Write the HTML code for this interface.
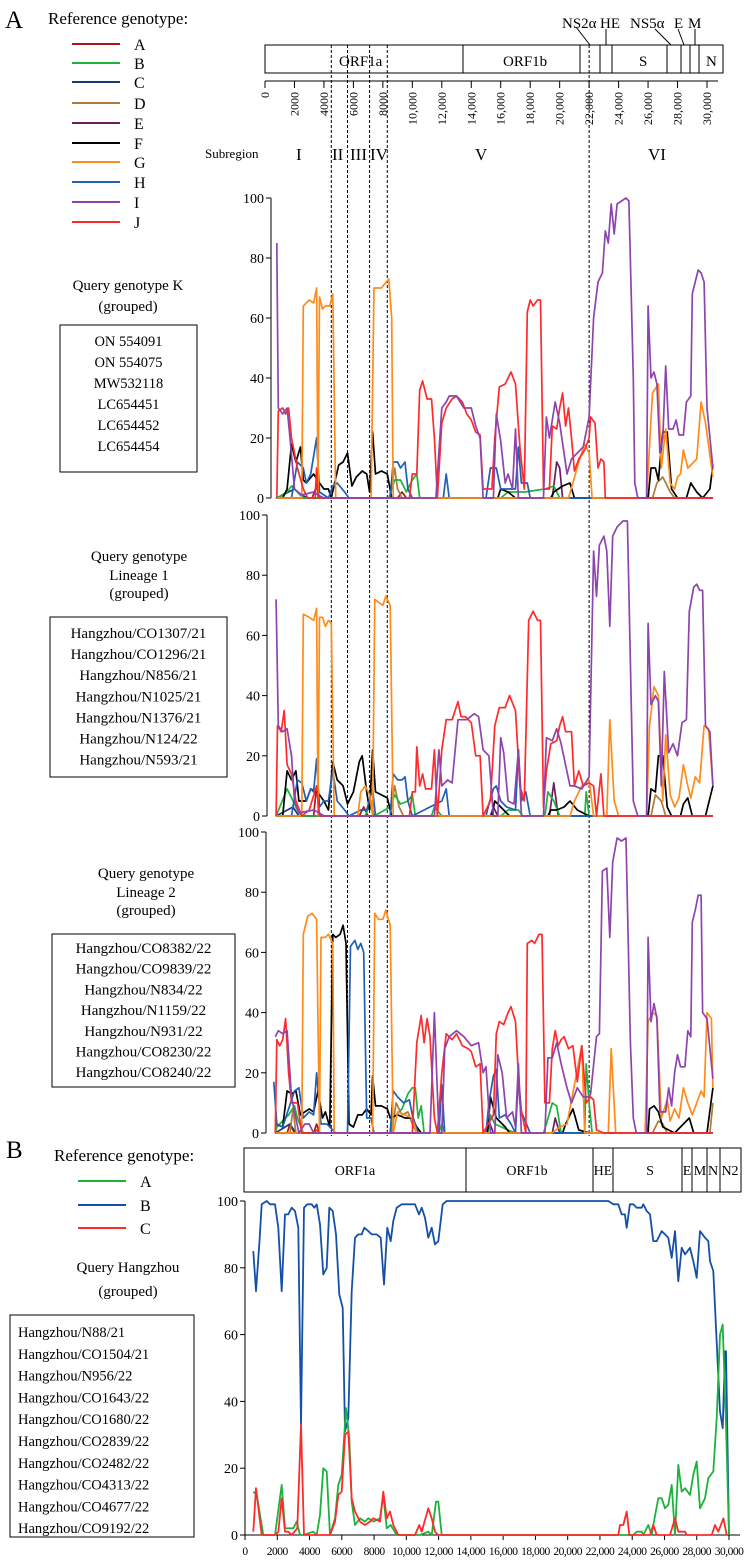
<!DOCTYPE html>
<html><head><meta charset="utf-8"><style>
html,body{margin:0;padding:0;background:#fff;}
svg{display:block;font-family:"Liberation Serif",serif;}
</style></head>
<body>
<svg id="fig" width="747" height="1563" viewBox="0 0 747 1563" xmlns="http://www.w3.org/2000/svg">
<text x="5" y="28" font-size="25">A</text>
<text x="48" y="24" font-size="17">Reference genotype:</text>
<g id="legendA"></g>
<g id="genomeA" fill="none" stroke="#000" stroke-width="1">
<rect x="265" y="45" width="458" height="28"/>
<line x1="463" y1="45" x2="463" y2="73"/><line x1="580" y1="45" x2="580" y2="73"/>
<line x1="600" y1="45" x2="600" y2="73"/><line x1="612" y1="45" x2="612" y2="73"/>
<line x1="667" y1="45" x2="667" y2="73"/><line x1="681" y1="45" x2="681" y2="73"/>
<line x1="690" y1="45" x2="690" y2="73"/><line x1="699" y1="45" x2="699" y2="73"/>
<line x1="576" y1="27" x2="590" y2="45"/><line x1="606" y1="29" x2="606" y2="45"/>
<line x1="655" y1="29" x2="671" y2="45"/><line x1="678" y1="29" x2="684" y2="45"/>
<line x1="695" y1="29" x2="695" y2="45"/>
</g>
<g font-size="15">
<text x="339" y="66">ORF1a</text>
<text x="503" y="66">ORF1b</text>
<text x="639" y="66">S</text>
<text x="706" y="66">N</text>
<text x="562" y="28">NS2α</text>
<text x="600" y="28">HE</text>
<text x="630" y="28">NS5α</text>
<text x="674" y="28">E</text>
<text x="688" y="28">M</text>
</g>
<g id="topAxis"></g>
<text x="205" y="158" font-size="13">Subregion</text>
<g font-size="17">
<text x="296" y="160">I</text><text x="332" y="160">II</text><text x="350" y="160">III</text><text x="370" y="160">IV</text><text x="475" y="160">V</text><text x="648" y="160">VI</text>
</g>
<g id="dashes"></g>
<g id="panels"></g>
<g font-size="15" text-anchor="middle">
<text x="128" y="290">Query genotype K</text><text x="128" y="311">(grouped)</text>
<text x="139" y="561">Query genotype</text><text x="139" y="580">Lineage 1</text><text x="139" y="598">(grouped)</text>
<text x="146" y="878">Query genotype</text><text x="146" y="897">Lineage 2</text><text x="146" y="915">(grouped)</text>
<text x="128" y="1272">Query Hangzhou</text><text x="128" y="1296">(grouped)</text>
</g>
<g id="boxes"></g>
<text x="6" y="1158" font-size="25">B</text>
<text x="54" y="1161" font-size="17">Reference genotype:</text>
<g id="legendB"></g>
<g fill="none" stroke="#000">
<rect x="244" y="1148" width="497" height="44"/>
<line x1="466" y1="1148" x2="466" y2="1192"/><line x1="593" y1="1148" x2="593" y2="1192"/>
<line x1="613" y1="1148" x2="613" y2="1192"/><line x1="682" y1="1148" x2="682" y2="1192"/>
<line x1="692" y1="1148" x2="692" y2="1192"/><line x1="707" y1="1148" x2="707" y2="1192"/>
<line x1="720" y1="1148" x2="720" y2="1192"/>
</g>
<g font-size="14" text-anchor="middle">
<text x="355" y="1175">ORF1a</text><text x="527" y="1175">ORF1b</text><text x="603" y="1175">HE</text>
<text x="650" y="1175">S</text><text x="687" y="1175">E</text><text x="700" y="1175">M</text>
<text x="713" y="1175">N</text><text x="730" y="1175">N2</text>
</g>
</svg>
<script>
const refNames = ['A','B','C','D','E','F','G','H','I','J'];
const refColors = ['#a8161f','#1db33b','#1c3a73','#b07a3c','#6b1f5c','#000000','#ff8c1a','#1f5fb5','#8e44ad','#ff2a2a'];
const yTicksA = [0,20,40,60,80,100];
const topTicks = [0,2000,4000,6000,8000,10000,12000,14000,16000,18000,20000,22000,24000,26000,28000,30000];
const topTickLabels = ['0','2000','4000','6000','8000','10,000','12,000','14,000','16,000','18,000','20,000','22,000','24,000','26,000','28,000','30,000'];
const boundaries = [4500,5600,7100,8300,22000];

const p1_A = [[800,0],[3200,0],[3500,4],[3700,0],[9000,0],[9300,2],[9600,0],[30400,0]];
const p1_B = [[800,0],[1500,2],[1800,4],[2200,2],[2600,0],[8400,0],[8800,6],[9200,6],[9600,2],[10000,6],[10300,8],[10500,0],[16000,0],[16500,2],[17600,2],[19000,3],[19600,4],[20000,0],[30400,0]];
const p1_C = [[800,0],[2000,3],[2400,1],[3000,0],[30400,0]];
const p1_D = [[800,0],[8500,0],[8800,10],[9000,3],[9300,0],[26300,0],[26600,5],[27000,7],[27500,2],[27800,0],[30400,0]];
const p1_E = [[800,0],[19500,0],[19800,12],[20000,10],[20200,0],[30400,0]];
const p1_F = [[800,0],[1200,0],[1500,3],[1800,18],[2100,12],[2400,17],[2600,6],[2800,5],[3300,8],[3700,5],[4000,3],[4300,3],[4500,0],[5000,11],[5300,12],[5600,15],[5900,4],[6200,7],[6600,9],[6900,8],[7100,2],[7300,22],[7500,8],[7900,9],[8300,8],[8600,0],[15800,0],[16000,3],[16500,2],[17000,0],[19400,0],[19600,2],[20200,4],[20700,5],[21000,0],[26000,0],[26200,10],[26500,10],[26700,6],[27000,22],[27300,22],[27600,3],[28000,0],[28600,0],[28900,5],[29300,2],[29700,0],[30200,3],[30400,11]];
const p1_G = [[800,0],[2500,0],[2600,64],[3000,66],[3300,65],[3500,70],[3600,0],[3700,67],[3900,63],[4100,64],[4400,64],[4600,68],[4800,0],[7200,0],[7400,70],[7900,70],[8400,73],[8600,60],[8700,0],[20600,0],[20900,5],[21300,12],[21700,18],[22000,15],[22200,0],[25900,0],[26300,35],[26700,38],[26900,10],[27200,23],[27500,5],[27800,3],[28000,7],[28200,8],[28400,16],[28700,10],[28900,11],[29300,13],[29600,32],[29900,25],[30400,7]];
const p1_H = [[800,0],[1800,0],[2200,12],[2600,10],[2800,5],[3100,8],[3500,20],[3700,2],[4300,0],[4600,4],[4900,5],[5400,2],[5700,0],[8500,0],[8700,12],[9000,12],[9200,10],[9500,12],[9700,3],[10000,0],[12100,0],[12300,8],[12500,0],[15000,0],[15300,10],[15700,10],[16000,3],[16400,3],[17000,3],[17200,17],[17400,5],[17800,5],[18000,0],[30400,0]];
const p1_I = [[800,85],[900,30],[1200,28],[1500,30],[1700,20],[2000,3],[2500,1],[3300,2],[3600,1],[4000,0],[11600,0],[12000,30],[12300,32],[12500,34],[13000,34],[13500,30],[14000,30],[14300,24],[14600,20],[14800,0],[15500,0],[15700,28],[16000,19],[16300,5],[16500,8],[16800,3],[17000,23],[17200,0],[18900,0],[19100,27],[19300,20],[19700,32],[20000,25],[20500,8],[20800,13],[21200,15],[21600,17],[22000,27],[22300,60],[22600,72],[22900,75],[23100,89],[23300,85],[23500,98],[23700,88],[23900,98],[24200,99],[24500,100],[24700,99],[25000,40],[25100,5],[25300,0],[25900,0],[26000,64],[26200,40],[26400,42],[26600,38],[26800,15],[27000,20],[27200,44],[27400,23],[27700,23],[27900,26],[28100,21],[28400,21],[28600,32],[28900,34],[29000,68],[29200,72],[29400,76],[29600,75],[29800,72],[30000,30],[30400,10]];
const p1_J = [[800,0],[900,29],[1200,30],[1400,28],[1600,30],[1800,20],[2200,10],[2600,3],[2900,0],[3400,0],[3500,10],[3600,0],[9800,0],[10000,8],[10300,8],[10500,36],[10700,39],[11000,33],[11300,33],[11500,20],[11700,0],[12000,25],[12300,30],[12700,33],[13000,34],[13400,32],[13700,28],[14000,26],[14300,22],[14600,21],[14800,3],[15400,3],[15600,20],[15900,37],[16300,38],[16700,42],[17000,38],[17300,17],[17600,3],[17800,62],[18000,66],[18200,64],[18500,66],[18700,66],[18900,3],[19300,3],[19500,24],[19800,23],[20000,30],[20200,35],[20400,24],[20600,30],[20800,20],[21000,9],[21300,13],[21700,16],[22000,20],[22100,27],[22400,25],[22600,10],[22800,13],[23000,12],[23100,0],[30400,0]];

const p2_A = [[750,0],[3300,0],[3500,10],[3700,0],[6400,0],[6700,3],[7000,0],[30400,0]];
const p2_B = [[750,0],[1500,9],[1800,6],[2200,2],[2500,0],[6800,0],[7200,5],[7400,0],[8500,3],[8800,7],[9200,4],[9700,5],[10000,7],[10200,0],[11300,0],[11500,3],[12000,0],[16000,0],[16500,2],[17200,2],[17500,0],[19000,0],[19200,8],[19600,5],[20000,0],[21700,0],[21800,8],[22000,0],[30400,0]];
const p2_C = [[750,0],[1900,3],[2300,0],[30400,0]];
const p2_D = [[750,0],[8500,0],[8800,10],[9100,3],[9400,0],[26200,0],[26500,7],[26900,5],[27200,0],[30400,0]];
const p2_E = [[750,0],[15300,0],[15500,3],[15800,0],[19300,0],[19600,11],[19900,0],[30400,0]];
const p2_F = [[750,0],[1200,0],[1500,15],[1800,12],[2100,15],[2300,5],[2800,5],[3100,9],[3500,8],[3700,7],[4000,5],[4300,2],[4600,18],[4900,12],[5300,10],[5600,4],[6000,8],[6400,18],[6600,20],[6900,8],[7100,2],[7300,22],[7500,8],[7900,7],[8300,6],[8600,0],[15400,0],[15600,5],[16200,2],[16600,0],[19200,0],[19400,2],[19800,2],[20300,3],[20700,5],[21200,2],[22000,0],[26000,0],[26200,9],[26500,8],[26700,20],[27000,20],[27300,3],[27600,0],[28200,0],[28400,4],[28700,6],[29000,0],[29900,0],[30400,10]];
const p2_G = [[750,0],[2500,0],[2600,67],[3000,66],[3300,65],[3500,69],[3600,0],[3700,66],[3900,66],[4100,63],[4300,65],[4500,64],[4700,0],[6300,0],[6500,8],[6800,10],[7100,7],[7300,0],[7450,72],[7700,71],[8000,70],[8200,73],[8500,70],[8700,0],[20700,0],[21000,5],[21500,10],[22000,12],[22300,0],[23200,0],[23400,32],[23700,5],[24000,0],[25900,0],[26100,30],[26400,43],[26700,40],[27000,5],[27200,27],[27500,7],[27800,3],[28100,6],[28400,17],[28700,10],[28900,6],[29200,13],[29500,11],[29800,30],[30100,29],[30400,10]];
const p2_H = [[750,0],[1800,0],[2200,12],[2500,11],[2800,5],[3100,9],[3300,8],[3500,19],[3700,3],[4000,5],[4300,5],[4600,15],[4900,5],[5400,2],[5700,0],[6500,2],[6900,2],[7300,9],[7500,0],[8500,0],[8700,14],[9000,12],[9300,12],[9500,13],[9700,5],[10000,0],[12000,5],[12300,9],[12500,0],[15000,0],[15200,4],[15500,9],[15700,10],[16000,5],[16400,3],[17000,2],[17200,22],[17400,5],[17700,8],[18000,0],[30400,0]];
const p2_I = [[750,72],[900,30],[1200,28],[1500,29],[1800,20],[2000,5],[2300,1],[3300,2],[3700,1],[4000,0],[11500,0],[11800,22],[12000,10],[12400,12],[12700,11],[13100,32],[13700,32],[14200,34],[14500,33],[14800,22],[15200,20],[15500,0],[15800,0],[16000,26],[16200,21],[16500,5],[16900,4],[17200,22],[17400,0],[18900,0],[19100,26],[19500,25],[19800,29],[20100,24],[20700,10],[21000,10],[21500,9],[22000,13],[22300,88],[22500,73],[22700,90],[23000,93],[23200,88],[23400,63],[23600,93],[23900,96],[24300,98],[24600,98],[25000,5],[25300,0],[25900,0],[26000,64],[26200,37],[26500,40],[26700,38],[26900,10],[27100,48],[27400,21],[27700,24],[28000,20],[28300,31],[28600,32],[28800,68],[29100,76],[29300,77],[29500,75],[29700,75],[29900,30],[30200,28],[30400,10]];
const p2_J = [[750,0],[850,30],[1100,28],[1300,35],[1500,17],[1800,14],[2100,5],[2500,0],[3000,2],[3500,10],[3700,0],[9800,0],[10000,8],[10200,8],[10300,23],[10500,10],[10700,14],[10900,9],[11300,9],[11500,22],[11700,0],[12000,22],[12300,32],[12700,32],[13100,38],[13300,33],[13600,33],[14000,31],[14300,20],[14600,20],[14800,0],[15300,5],[15600,30],[15900,36],[16300,36],[16600,40],[17000,35],[17300,10],[17600,5],[17900,65],[18200,68],[18500,65],[18700,65],[18900,3],[19100,15],[19400,24],[19800,25],[20000,30],[20200,33],[20400,28],[20800,28],[21000,10],[21300,15],[21600,10],[22000,11],[22300,10],[22500,0],[22800,14],[23000,0],[30400,0]];

const p3_A = [[700,0],[1500,0],[1700,3],[2000,0],[3300,0],[3500,3],[3700,0],[30400,0]];
const p3_B = [[700,0],[800,2],[1600,6],[2000,9],[2200,5],[2600,0],[8500,0],[8700,5],[9300,8],[9700,13],[10000,15],[10200,15],[10400,5],[10600,9],[10800,0],[11800,0],[12000,3],[12200,0],[15100,0],[15300,6],[15600,3],[16500,1],[17000,0],[18900,0],[19100,3],[19500,10],[19800,9],[20100,0],[21700,0],[21800,23],[22000,10],[22200,0],[30400,0]];
const p3_C = [[700,0],[1700,3],[2100,0],[30400,0]];
const p3_D = [[700,0],[1700,0],[1900,8],[2100,0],[8600,0],[8900,10],[9300,6],[9700,7],[10000,3],[10300,0],[26300,0],[26700,4],[27000,3],[27300,0],[30200,0],[30400,10]];
const p3_E = [[700,0],[15000,0],[15200,4],[15500,0],[19500,0],[19700,5],[20000,0],[30400,0]];
const p3_F = [[700,3],[1200,2],[1500,14],[1800,13],[2100,14],[2400,6],[2700,7],[3000,8],[3300,7],[3600,14],[3900,5],[4100,7],[4400,2],[4600,66],[4800,65],[5100,66],[5300,69],[5500,63],[5700,3],[6000,2],[6300,6],[6600,6],[6900,8],[7200,6],[7300,19],[7500,9],[7900,9],[8300,8],[8500,5],[9000,6],[9500,5],[10000,5],[10300,2],[10600,0],[15100,0],[15300,12],[15700,5],[16300,2],[16600,0],[20200,0],[20400,3],[20900,8],[21300,1],[22000,0],[26000,0],[26100,8],[26400,9],[26700,7],[27000,2],[27800,0],[28400,3],[28800,5],[29100,0],[30000,0],[30400,15]];
const p3_G = [[700,0],[2500,0],[2600,66],[2900,72],[3200,73],[3500,71],[3700,0],[3800,65],[4100,65],[4300,66],[4600,63],[4700,0],[7300,0],[7450,73],[7700,71],[8000,71],[8200,74],[8500,69],[8700,0],[9000,7],[9500,6],[10000,5],[10300,0],[19500,0],[20000,2],[20500,3],[21500,29],[21700,0],[23300,0],[23500,28],[23800,0],[25800,0],[26000,37],[26300,40],[26600,39],[26900,5],[27300,11],[27500,4],[27800,8],[28100,5],[28400,15],[28700,10],[29000,6],[29300,10],[29600,14],[29800,12],[30000,40],[30300,38],[30400,15]];
const p3_H = [[600,17],[800,3],[1200,2],[1600,8],[2000,14],[2300,15],[2600,5],[3000,7],[3300,6],[3500,20],[3800,3],[4200,3],[4400,2],[4800,0],[5600,0],[5800,62],[6100,64],[6300,61],[6500,63],[6700,60],[6900,5],[7200,5],[7400,0],[8500,0],[8700,14],[9000,12],[9400,10],[9800,11],[10000,6],[10400,0],[11800,0],[12000,16],[12200,0],[15000,0],[15200,10],[15500,19],[15700,21],[15900,5],[16300,6],[16700,3],[17000,0],[17200,19],[17400,7],[18000,0],[30400,0]];
const p3_I = [[700,32],[900,34],[1200,33],[1500,34],[1800,12],[2300,0],[2700,3],[3000,3],[3300,0],[11200,0],[11500,40],[11800,0],[12000,0],[12200,28],[12500,32],[13000,34],[13500,32],[14000,29],[14500,30],[14800,20],[15000,22],[15300,0],[15600,0],[15800,26],[16100,20],[16400,5],[16800,7],[17000,2],[17200,23],[17400,0],[19000,0],[19200,25],[19500,25],[19800,30],[20100,23],[20500,15],[20800,10],[21200,15],[21600,12],[22000,12],[22100,13],[22500,32],[22700,33],[22900,87],[23200,88],[23400,65],[23600,90],[23900,98],[24200,97],[24500,98],[24800,30],[25000,5],[25200,0],[25900,0],[26000,65],[26200,37],[26400,43],[26600,38],[26800,7],[27200,7],[27400,15],[27600,9],[27800,20],[28000,26],[28200,22],[28500,22],[28700,34],[28900,32],[29000,70],[29200,74],[29400,79],[29600,79],[29700,40],[30000,38],[30400,18]];
const p3_J = [[700,0],[800,31],[1000,29],[1200,31],[1400,38],[1600,20],[1800,10],[2200,10],[2500,0],[3300,0],[3500,1],[3700,0],[10000,0],[10300,30],[10600,39],[10800,30],[11000,38],[11200,32],[11500,5],[11700,0],[12000,20],[12300,33],[12700,31],[13000,33],[13400,29],[13800,28],[14000,27],[14300,22],[14600,23],[14800,0],[15500,6],[15700,33],[15900,37],[16200,36],[16500,40],[16700,42],[17000,37],[17300,10],[17700,0],[17800,63],[18100,64],[18300,63],[18600,66],[18800,66],[19000,10],[19300,10],[19500,28],[19700,34],[19900,29],[20100,31],[20300,32],[20600,28],[20900,29],[21200,17],[21500,29],[21800,10],[22100,12],[22300,11],[22500,1],[23000,0],[30400,0]];

const refNamesB = ['A','B','C'];
const refColorsB = ['#1db33b','#1450a8','#ff2a2a'];
const yTicksB = [0,20,40,60,80,100];
const bTicks = [0,2000,4000,6000,8000,10000,12000,14000,16000,18000,20000,22000,24000,26000,28000,30000];
const bTickLabels = ['0','2000','4000','6000','8000','10,000','12,000','14,000','16,000','18,000','20,000','22,000','24,000','26,000','28,000','30,000'];
const pb_A = [[517,13],[723,12],[1136,0],[1860,0],[2273,15],[2480,2],[2996,2],[3203,4],[3410,0],[3616,0],[4236,1],[4442,0],[4649,6],[4855,20],[5062,19],[5269,0],[5578,5],[5785,15],[5991,18],[6260,38],[6467,29],[6612,10],[6818,3],[7128,5],[7438,4],[7645,5],[7955,4],[8367,5],[8574,12],[8781,2],[9029,3],[9400,0],[10847,0],[11364,1],[11570,0],[11838,10],[11983,10],[12190,0],[24070,0],[24277,1],[24587,1],[24690,0],[25000,3],[25206,0],[25310,3],[25620,11],[25826,11],[26033,8],[26240,9],[26446,15],[26652,0],[26859,21],[27066,13],[27273,14],[27583,12],[27790,18],[27996,22],[28202,8],[28512,11],[28719,17],[29029,19],[29236,35],[29443,60],[29608,63],[29814,33],[29998,0]];
const pb_B = [[517,85],[682,73],[900,88],[1033,99],[1343,100],[1550,99],[1860,99],[2066,92],[2273,73],[2480,96],[2686,96],[2893,98],[3100,97],[3306,92],[3471,33],[3657,98],[3864,99],[4132,99],[4298,98],[4442,99],[4649,93],[4855,78],[5062,80],[5227,98],[5434,97],[5640,90],[5847,72],[6054,68],[6198,31],[6405,35],[6612,73],[6818,89],[7025,90],[7232,90],[7397,92],[7645,91],[7852,90],[8162,90],[8410,89],[8615,75],[8822,92],[9029,88],[9194,94],[9400,98],[9710,99],[10537,99],[10785,96],[10950,98],[11157,95],[11364,89],[11570,92],[11777,87],[11983,88],[12252,99],[12500,100],[22520,100],[22830,99],[23140,99],[23350,96],[23550,96],[23656,92],[23860,99],[24070,99],[24277,98],[24587,98],[24690,99],[24897,97],[25103,96],[25310,88],[25520,88],[25826,91],[26033,90],[26240,89],[26446,83],[26652,91],[26859,76],[27066,86],[27273,84],[27583,86],[27790,82],[27996,77],[28202,91],[28512,89],[28719,88],[28822,82],[29029,79],[29443,37],[29608,32],[29750,55],[29814,55],[29998,0]];
const pb_C = [[517,1],[682,14],[1033,0],[1860,0],[2066,1],[2273,11],[2480,1],[2686,1],[2893,0],[3244,2],[3471,33],[3657,0],[5269,0],[5578,4],[5785,12],[5991,13],[6198,30],[6405,31],[6612,11],[6818,7],[7128,4],[7438,3],[7748,4],[7955,5],[8367,4],[8574,13],[8781,5],[8988,7],[9194,3],[9504,0],[10537,0],[10806,3],[10950,1],[11364,8],[11570,5],[11777,1],[11983,0],[23140,0],[23243,3],[23450,3],[23656,7],[23822,0],[25103,0],[25310,3],[25516,0],[26343,0],[26652,5],[26859,1],[27273,1],[27376,0],[28925,0],[29132,3],[29339,1],[29650,5],[29857,0]];

const NS='http://www.w3.org/2000/svg';
function mk(tag, attrs, parent){const e=document.createElementNS(NS,tag);for(const k in attrs)e.setAttribute(k,attrs[k]);parent.appendChild(e);return e;}

const gxA = g => 265 + g/30000*442;
const gxB = g => 245 + g/30000*484;

const legA=document.getElementById('legendA');
const legYA=[44,63,82,103,123,143,162,182,202,222];
refNames.forEach((n,i)=>{
  const l=mk('line',{x1:72,x2:120,y1:legYA[i],y2:legYA[i],stroke:refColors[i],'stroke-width':2},legA);
  
  
  const t=mk('text',{x:134,y:legYA[i]+6,'font-size':16},legA);
  t.textContent=n;
  
  
});
const legB=document.getElementById('legendB');
const legYB=[1181,1205,1228];
refNamesB.forEach((n,i)=>{
  const l=mk('line',{x1:78,x2:126,y1:legYB[i],y2:legYB[i],stroke:refColorsB[i],'stroke-width':2},legB);
  
  
  const t=mk('text',{x:140,y:legYB[i]+6,'font-size':16},legB);
  t.textContent=n;
  
  
});

const ta=document.getElementById('topAxis');
mk('line',{x1:265,x2:718,y1:81,y2:81,stroke:'#000'},ta);
topTicks.forEach((v,i)=>{
  const x=gxA(v);
  mk('line',{x1:x,x2:x,y1:81,y2:88,stroke:'#000'},ta);
  const t=mk('text',{x:0,y:0,'font-size':12,'text-anchor':'end',transform:`translate(${x+4},92) rotate(-90)`},ta);
  t.textContent=topTickLabels[i];
  
  
});

const dg=document.getElementById('dashes');
boundaries.forEach(b=>{
  const x=gxA(b);
  const d=mk('line',{x1:x,x2:x,y1:45,y2:1136,stroke:'#000','stroke-width':1,'stroke-dasharray':'3,2'},dg);
  
  
});

const panels=[
 {name:'panel-genotype-k',y100:198,y0:498,ax:271,series:[p1_A,p1_B,p1_C,p1_D,p1_E,p1_F,p1_G,p1_H,p1_I,p1_J]},
 {name:'panel-lineage-1',y100:515,y0:816,ax:267,series:[p2_A,p2_B,p2_C,p2_D,p2_E,p2_F,p2_G,p2_H,p2_I,p2_J]},
 {name:'panel-lineage-2',y100:832,y0:1133,ax:266,series:[p3_A,p3_B,p3_C,p3_D,p3_E,p3_F,p3_G,p3_H,p3_I,p3_J]}
];
const order=[0,2,3,4,1,5,7,6,9,8];
const pg=document.getElementById('panels');
panels.forEach(p=>{
  const g=mk('g',{},pg);
  
  
  const ys=v=>p.y0-(p.y0-p.y100)*v/100;
  mk('line',{x1:p.ax,x2:p.ax,y1:p.y100,y2:p.y0,stroke:'#000'},g);
  yTicksA.forEach(v=>{
    mk('line',{x1:p.ax-5,x2:p.ax,y1:ys(v),y2:ys(v),stroke:'#000'},g);
    const t=mk('text',{x:p.ax-7,y:ys(v)+5,'font-size':14,'text-anchor':'end'},g);
    t.textContent=v;
    
    
  });
  mk('line',{x1:gxA(700),x2:gxA(30400),y1:p.y0,y2:p.y0,stroke:'#7aa6d8','stroke-width':1.5},g);
  order.forEach(i=>{
    const s=p.series[i];
    const d=s.map((pt,j)=>(j?'L':'M')+gxA(pt[0]).toFixed(1)+','+ys(pt[1]).toFixed(1)).join('');
    const path=mk('path',{d:d,fill:'none',stroke:refColors[i],'stroke-width':1.7,'stroke-linejoin':'round'},g);
    
    
  });
});

(function(){
  const g=mk('g',{},pg);
  
  
  const y100=1201,y0=1535,ax=245;
  const ys=v=>y0-(y0-y100)*v/100;
  mk('line',{x1:ax,x2:ax,y1:y100,y2:y0,stroke:'#000'},g);
  mk('line',{x1:ax,x2:740,y1:y0,y2:y0,stroke:'#000'},g);
  yTicksB.forEach(v=>{
    mk('line',{x1:ax-5,x2:ax,y1:ys(v),y2:ys(v),stroke:'#000'},g);
    const t=mk('text',{x:ax-7,y:ys(v)+5,'font-size':14,'text-anchor':'end'},g);
    t.textContent=v;
    
    
  });
  bTicks.forEach((v,i)=>{
    const x=gxB(v);
    mk('line',{x1:x,x2:x,y1:y0,y2:y0+5,stroke:'#000'},g);
    const t=mk('text',{x:x,y:y0+20,'font-size':11.5,'text-anchor':'middle','letter-spacing':'-0.5'},g);
    t.textContent=bTickLabels[i];
    
    
  });
  [pb_B,pb_A,pb_C].forEach((s,k)=>{
    const idx=[1,0,2][k];
    const d=s.map((pt,j)=>(j?'L':'M')+gxB(pt[0]).toFixed(1)+','+ys(pt[1]).toFixed(1)).join('');
    const path=mk('path',{d:d,fill:'none',stroke:refColorsB[idx],'stroke-width':1.8,'stroke-linejoin':'round'},g);
    
    
  });
})();

const boxes=[
 {x:60,y:325,w:137,h:147,y1:346,dy:21,fs:14.5,items:['ON 554091','ON 554075','MW532118','LC654451','LC654452','LC654454']},
 {x:50,y:617,w:177,h:160,y1:638,dy:21.1,fs:15,items:['Hangzhou/CO1307/21','Hangzhou/CO1296/21','Hangzhou/N856/21','Hangzhou/N1025/21','Hangzhou/N1376/21','Hangzhou/N124/22','Hangzhou/N593/21']},
 {x:52,y:934,w:183,h:153,y1:953,dy:20.7,fs:15,items:['Hangzhou/CO8382/22','Hangzhou/CO9839/22','Hangzhou/N834/22','Hangzhou/N1159/22','Hangzhou/N931/22','Hangzhou/CO8230/22','Hangzhou/CO8240/22']},
 {x:10,y:1315,w:184,h:222,y1:1337,dy:21.8,fs:14.5,items:['Hangzhou/N88/21','Hangzhou/CO1504/21','Hangzhou/N956/22','Hangzhou/CO1643/22','Hangzhou/CO1680/22','Hangzhou/CO2839/22','Hangzhou/CO2482/22','Hangzhou/CO4313/22','Hangzhou/CO4677/22','Hangzhou/CO9192/22']}
];
const bg=document.getElementById('boxes');
boxes.forEach((b,bi)=>{
  const g=mk('g',{},bg);
  
  
  mk('rect',{x:b.x,y:b.y,width:b.w,height:b.h,fill:'none',stroke:'#000'},g);
  b.items.forEach((s,i)=>{
    const t=mk('text',{x:bi===3?b.x+8:b.x+b.w/2,y:b.y1+i*b.dy,'font-size':b.fs,'text-anchor':bi===3?'start':'middle'},g);
    t.textContent=s;
    
    
  });
});
</script>
</body></html>
